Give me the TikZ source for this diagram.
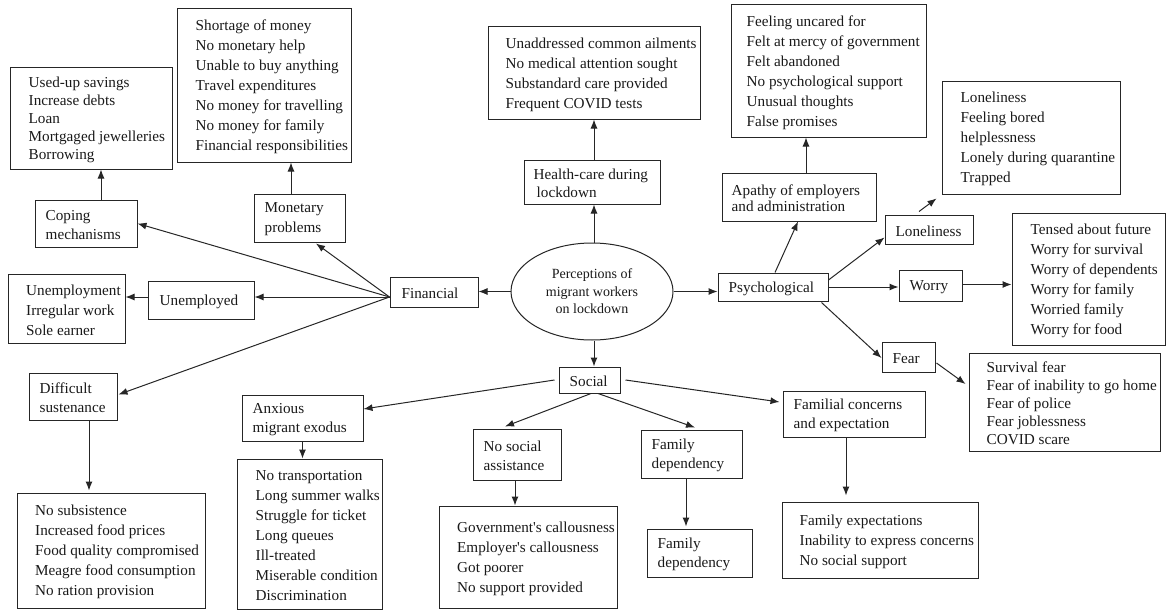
\documentclass[tikz,border=0pt]{standalone}
\usepackage{fontspec}
\setmainfont{Liberation Serif}
\usetikzlibrary{arrows.meta,shapes.geometric}
\newcommand\mkbox[8]{%
  \node[boxst, minimum width={#4-#2}, minimum height={#5-#3}] (#1) at ({(#2+#4)/2},{(#3+#5)/2}) {};
  \node[txtst, font=\fontsize{15.2}{#7}\selectfont, anchor=west] (#1t) at ([xshift=#6, yshift=-1.5]#1.west) {#8};}
\tikzset{
  boxst/.style={draw=black!85, line width=1pt, rectangle, inner sep=0pt},
  txtst/.style={align=left, inner sep=0pt, text=black!90},
  arr/.style={draw=black!85, line width=1pt, -{Latex[length=9pt,width=7pt]}},
}
\begin{document}
\begin{tikzpicture}[x=1pt,y=-1pt]
\useasboundingbox (0,0) rectangle (1167,610);
% Financial branch
\mkbox{copelist}{10}{68}{172}{169}{19}{18}{Used-up savings\\Increase debts\\Loan\\Mortgaged jewelleries\\Borrowing}
\mkbox{monlist}{177}{9}{351}{162}{19}{20}{Shortage of money\\No monetary help\\Unable to buy anything\\Travel expenditures\\No money for travelling\\No money for family\\Financial responsibilities}
\mkbox{cope}{35}{200}{137}{247}{11}{19}{Coping\\mechanisms}
\mkbox{mon}{254}{194}{345}{242}{11}{20}{Monetary\\problems}
\mkbox{fin}{390}{277}{478}{307}{12}{18}{Financial}
\mkbox{unemplist}{8}{274}{125}{343}{18.5}{20}{Unemployment\\Irregular work\\Sole earner}
\mkbox{unemp}{148}{281}{254}{319}{12}{18}{Unemployed}
\mkbox{difficult}{29}{373}{117}{420}{11}{19}{Difficult\\sustenance}
\mkbox{difflist}{17}{493}{205}{608}{18.5}{20}{No subsistence\\Increased food prices\\Food quality compromised\\Meagre food consumption\\No ration provision}
% Health
\mkbox{healthlist}{488}{27}{700}{119}{18}{20}{Unaddressed common ailments\\No medical attention sought\\Substandard care provided\\Frequent COVID tests}
\mkbox{health}{524}{160}{660}{204}{10}{18}{Health-care during\\\hspace{3pt}lockdown}
% Psychological
\mkbox{apathylist}{731}{5}{926}{137}{16}{20}{Feeling uncared for\\Felt at mercy of government\\Felt abandoned\\No psychological support\\Unusual thoughts\\False promises}
\mkbox{apathy}{722}{173}{876}{221}{10}{16}{Apathy of employers\\and administration}
\mkbox{lonelist}{942}{81}{1120}{194}{19}{20}{Loneliness\\Feeling bored\\helplessness\\Lonely during quarantine\\Trapped}
\mkbox{lone}{885}{215}{973}{244}{11}{18}{Loneliness}
\mkbox{worrylist}{1012}{213}{1165}{345}{19}{20}{Tensed about future\\Worry for survival\\Worry of dependents\\Worry for family\\Worried family\\Worry for food}
\mkbox{worry}{899}{270}{962}{301}{11}{18}{Worry}
\mkbox{psych}{718}{273}{828}{301}{11}{18}{Psychological}
\mkbox{fear}{882}{342}{935}{372}{11}{18}{Fear}
\mkbox{fearlist}{969}{353}{1160}{451}{18}{18}{Survival fear\\Fear of inability to go home\\Fear of police\\Fear joblessness\\COVID scare}
% Social
\mkbox{social}{559}{367}{620}{393}{11}{18}{Social}
\mkbox{familial}{783}{391}{925}{437}{11}{19}{Familial concerns\\and expectation}
\mkbox{familiallist}{782}{502}{978}{578}{18}{20}{Family expectations\\Inability to express concerns\\No social support}
\mkbox{nosocial}{473}{429}{561}{480}{11}{19}{No social\\assistance}
\mkbox{famdep}{641}{430}{742}{478}{11}{19}{Family\\dependency}
\mkbox{govlist}{439}{506}{617}{608}{18.5}{20}{Government\textquotesingle s callousness\\Employer\textquotesingle s callousness\\Got poorer\\No support provided}
\mkbox{famdeptwo}{647}{529}{752}{577}{11}{19}{Family\\dependency}
\mkbox{anx}{242}{395}{363}{441}{11}{19}{Anxious\\migrant exodus}
\mkbox{anxlist}{237}{459}{382}{609}{19}{20}{No transportation\\Long summer walks\\Struggle for ticket\\Long queues\\Ill-treated\\Miserable condition\\Discrimination}
% Centre
\node[ellipse, draw=black!85, line width=1pt, minimum width=162pt, minimum height=97pt, inner sep=0pt,
      align=center, font=\fontsize{14}{17.5}\selectfont, text=black!90] (ell) at (592,291.5)
      {Perceptions of\\migrant workers\\on lockdown};
% connectors: financial
\coordinate (fs) at ([shift={(0,5)}]fin.west);
\coordinate (us) at ([shift={(0,-3)}]unemp.west);
\draw[arr] ([shift={(15,0)}]cope.north) -- ([shift={(15,0)}]cope.north |- copelist.south);
\draw[arr] ([shift={(-8.5,0)}]mon.north) -- ([shift={(-8.5,0)}]mon.north |- monlist.south);
\draw[arr] (ell.west) -- (fin.east |- ell.west);
\draw[arr] (fs) -- ([shift={(16.5,1)}]mon.south);
\draw[arr] (fs) -- (cope.east);
\draw[arr] (fs) -- (unemp.east |- fs);
\draw[arr] (us) -- (unemplist.east |- us);
\draw[arr] (fs) -- ([shift={(1,-2)}]difficult.east);
\draw[arr] ([shift={(16,0)}]difficult.south) -- ([shift={(16,-2)}]difficult.south |- difflist.north);
% health
\draw[arr] ([shift={(2,0)}]ell.north) -- ([shift={(2,0)}]ell.north |- health.south);
\draw[arr] ([shift={(2,0)}]health.north) -- ([shift={(2,0)}]health.north |- healthlist.south);
% psychological
\draw[arr] (ell.east) -- (psych.west |- ell.east);
\draw[arr] ([shift={(2,0)}]psych.north) -- ([shift={(-1,0)}]apathy.south);
\draw[arr] ([shift={(7,0)}]apathy.north) -- ([shift={(7,0)}]apathy.north |- apathylist.south);
\draw[arr] ([shift={(0,-7)}]psych.east) -- ([shift={(0,8)}]lone.west);
\draw[arr] ([shift={(-10,-3)}]lone.north) -- ([shift={(-5,4)}]lonelist.south west);
\draw[arr] (psych.east) -- (worry.west |- psych.east);
\draw[arr] ([shift={(0,-1)}]worry.east) -- ([shift={(0,-1)}]worrylist.west |- worry.east);
\draw[arr] ([shift={(48.5,1)}]psych.south) -- ([shift={(0,1)}]fear.west);
\draw[arr] ([shift={(1,6)}]fear.east) -- ([shift={(-3,-18)}]fearlist.west);
% social
\draw[arr] ([shift={(2,0)}]ell.south) -- ([shift={(2,0)}]ell.south |- social.north);
\draw[arr] ([shift={(-4,0)}]social.west) -- ([shift={(0,-9)}]anx.east);
\draw[arr] ([shift={(1.5,0)}]social.south) -- ([shift={(-12,-2)}]nosocial.north);
\draw[arr] ([shift={(8.5,0)}]social.south) -- ([shift={(3.5,-2)}]famdep.north);
\draw[arr] ([shift={(5,0)}]social.east) -- ([shift={(-3,-12)}]familial.west);
\draw[arr] (anx.south) -- (anx.south |- anxlist.north);
\draw[arr] ([shift={(-2,0)}]nosocial.south) -- ([shift={(-2,0)}]nosocial.south |- govlist.north);
\draw[arr] ([shift={(-5.5,0)}]famdep.south) -- ([shift={(-5.5,-2)}]famdep.south |- famdeptwo.north);
\draw[arr] ([shift={(-8,0)}]familial.south) -- ([shift={(-8,-6)}]familial.south |- familiallist.north);
\end{tikzpicture}
\end{document}
